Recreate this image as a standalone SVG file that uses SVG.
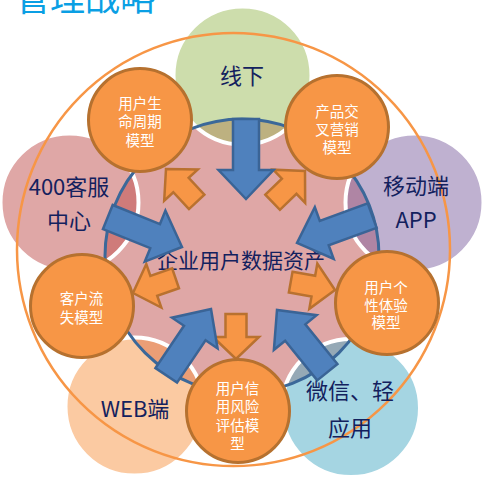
<svg xmlns="http://www.w3.org/2000/svg" width="483" height="502" viewBox="0 0 483 502">
<defs>
<style>
.sat{stroke:#FFFFFF;stroke-width:4;fill-opacity:0.5}
.st{font-family:"Noto Sans CJK SC","Liberation Sans",sans-serif;font-size:22px;fill:#13215E;text-anchor:middle}
.ot{font-family:"Noto Sans CJK SC","Liberation Sans",sans-serif;font-size:14.5px;fill:#FFFFFF;text-anchor:middle}
.oc{fill:#F79646;stroke:#B6712F;stroke-width:3}
.ba{fill:#4F81BD;stroke:#3A6496;stroke-width:2.5;stroke-linejoin:miter}
.oa{fill:#F79646;stroke:#B9712F;stroke-width:2.5;stroke-linejoin:miter}
</style>
<polygon id="barrow" points="-80,-13 -29,-13 -29,-27.5 0,0 -29,27.5 -29,13 -80,13"/>
<polygon id="oarrow" points="-45,-10.5 -22,-10.5 -22,-23 0,0 -22,23 -22,10.5 -45,10.5"/>
</defs>
<rect width="483" height="502" fill="#FFFFFF"/>
<text x="15" y="10.5" font-family="'Noto Sans CJK SC','Liberation Sans',sans-serif" font-size="35" fill="#0A9FE4">管理战略</text>
<g id="center">
<circle cx="242" cy="256" r="137" fill="#DFA7A6"/>
</g>
<g id="satellites">
<g id="sat-offline"><circle class="sat" cx="242.5" cy="75.5" r="69" fill="#9BBB59"/></g>
<g id="sat-app"><circle class="sat" cx="414.5" cy="202.5" r="69" fill="#8064A2"/></g>
<g id="sat-wechat"><circle class="sat" cx="351" cy="408" r="69" fill="#4BACC6"/></g>
<g id="sat-web"><circle class="sat" cx="134.5" cy="406.5" r="69" fill="#F79646"/></g>
<g id="sat-400"><circle class="sat" cx="69.5" cy="202.5" r="69" fill="#C0504D"/></g>
</g>
<circle cx="242" cy="256" r="137" fill="none" stroke="#3B6899" stroke-width="3"/>
<circle cx="233.5" cy="249.5" r="216.5" fill="none" stroke="#F79646" stroke-width="2.5"/>
<text class="st" x="241" y="267.5" style="font-size:21px">企业用户数据资产</text>
<g id="connectors">
<use href="#oarrow" class="oa" transform="translate(166,169) rotate(-133)"/>
<use href="#oarrow" class="oa" transform="translate(305,171) rotate(-44)"/>
<use href="#oarrow" class="oa" transform="translate(335,290) rotate(10)"/>
<use href="#oarrow" class="oa" transform="translate(236,359) rotate(90)"/>
<use href="#oarrow" class="oa" transform="translate(133,293) rotate(161)"/>
<use href="#barrow" class="ba" transform="translate(246,199) rotate(90)"/>
<use href="#barrow" class="ba" transform="translate(182,247) rotate(22)"/>
<use href="#barrow" class="ba" transform="translate(297,243) rotate(160)"/>
<use href="#barrow" class="ba" transform="translate(211,309) rotate(-56)"/>
<use href="#barrow" class="ba" transform="translate(277,310) rotate(-129)"/>
</g>
<g id="m-lifecycle"><circle class="oc" cx="140" cy="120" r="51.5"/>
<text class="ot" x="140" y="109">用户生</text><text class="ot" x="140" y="127">命周期</text><text class="ot" x="140" y="145.5">模型</text></g>
<g id="m-cross"><circle class="oc" cx="337" cy="127" r="51.5"/>
<text class="ot" x="337" y="116.5">产品交</text><text class="ot" x="337" y="134.5">叉营销</text><text class="ot" x="337" y="153">模型</text></g>
<g id="m-experience"><circle class="oc" cx="387" cy="303" r="51.5"/>
<text class="ot" x="386" y="293">用户个</text><text class="ot" x="386" y="310.5">性体验</text><text class="ot" x="386" y="327.5">模型</text></g>
<g id="m-risk"><circle class="oc" cx="238" cy="411" r="51.5"/>
<text class="ot" x="237.5" y="393.5">用户信</text><text class="ot" x="237.5" y="412">用风险</text><text class="ot" x="237.5" y="430.5">评估模</text><text class="ot" x="237.5" y="448.5">型</text></g>
<g id="m-churn"><circle class="oc" cx="82" cy="306" r="51.5"/>
<text class="ot" x="81.5" y="304">客户流</text><text class="ot" x="81.5" y="322.5">失模型</text></g>
<g id="labels">
<text class="st" x="242" y="84">线下</text>
<text class="st" x="69" y="195">400客服</text><text class="st" x="69" y="229">中心</text>
<text class="st" x="416" y="194">移动端</text><text class="st" x="416" y="228">APP</text>
<text class="st" x="135" y="417">WEB端</text>
<text class="st" x="350" y="399">微信、轻</text><text class="st" x="350" y="436">应用</text>
</g>
</svg>
